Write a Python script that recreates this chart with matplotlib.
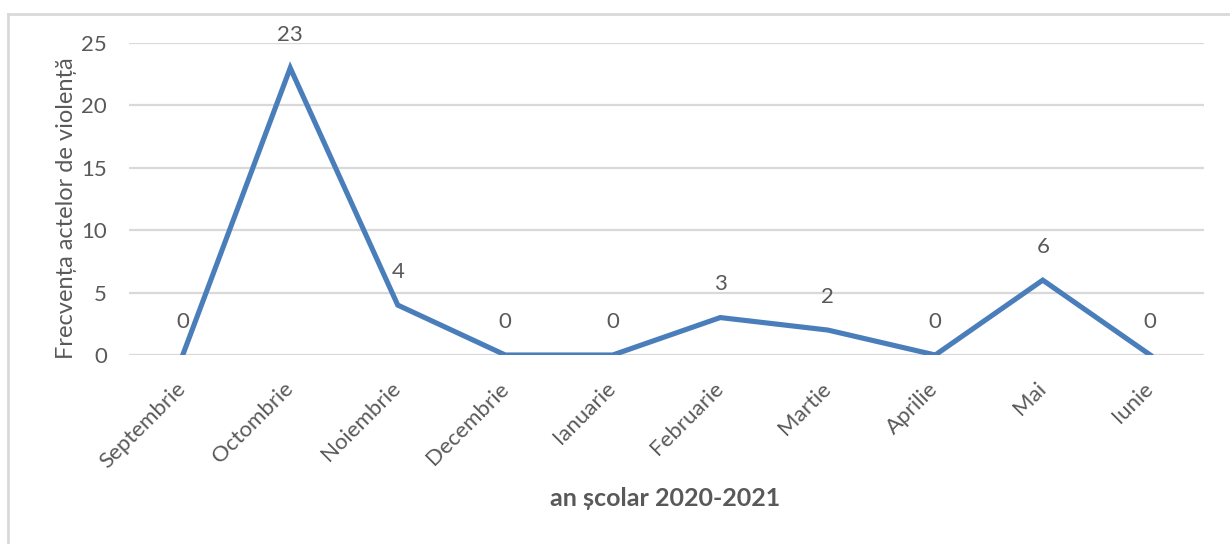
import matplotlib.pyplot as plt
from matplotlib.lines import Line2D

# Data
months = ['Septembrie', 'Octombrie', 'Noiembrie', 'Decembrie', 'Ianuarie',
          'Februarie', 'Martie', 'Aprilie', 'Mai', 'Iunie']
cases = [0, 23, 4, 0, 0, 3, 2, 0, 6, 0]
y_ticks = [0, 5, 10, 15, 20, 25]

text_color = '#595959'
line_color = '#4A7EBB'
grid_color = '#D9D9D9'

plt.rcParams['font.family'] = ['Lato', 'DejaVu Sans']

fig = plt.figure(figsize=(12.3, 5.44), dpi=100)
ax = fig.add_axes([129 / 1230, 1 - 355 / 544, 1075 / 1230, 312 / 544])

x = list(range(len(months)))
ax.plot(x, cases, color=line_color, linewidth=3.7, solid_joinstyle='miter', zorder=3)

# Data labels above each point
for xi, v in zip(x, cases):
    ax.annotate(str(v), (xi, v), xytext=(0, 24), textcoords='offset points',
                ha='center', va='center', fontsize=16, color=text_color)

ax.set_xlim(-0.5, len(months) - 0.5)
ax.set_ylim(0, 25)
ax.set_yticks(y_ticks)
ax.set_xticks(x)
ax.set_xticklabels(months, rotation=45, ha='right', va='center', rotation_mode='anchor')
ax.yaxis.grid(True, color=grid_color, linewidth=1.6)
ax.set_axisbelow(True)
for s in ax.spines.values():
    s.set_visible(False)
ax.tick_params(axis='both', length=0, labelsize=16, colors=text_color)
ax.tick_params(axis='x', pad=22)
ax.tick_params(axis='y', pad=16)

ax.set_ylabel('Frecvența actelor de violență', fontsize=17, color=text_color)
ax.yaxis.set_label_coords(-0.048, 0.47)
fig.text(665 / 1230, 1 - 499 / 544, 'an școlar 2020-2021', fontsize=18, fontweight='bold',
         color=text_color, ha='center', va='center')

# Chart border (left and top visible)
fig.add_artist(Line2D([8 / 1230, 8 / 1230], [0, 1 - 14 / 544], color=grid_color, linewidth=2))
fig.add_artist(Line2D([8 / 1230, 1], [1 - 14 / 544, 1 - 14 / 544], color=grid_color, linewidth=2))

fig.savefig('out.png', dpi=100)
